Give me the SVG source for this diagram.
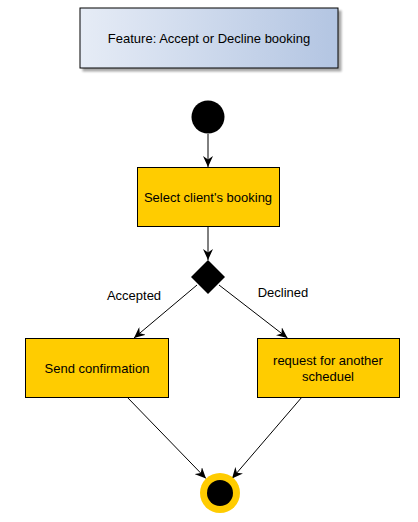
<svg xmlns="http://www.w3.org/2000/svg" width="418" height="522" viewBox="0 0 418 522">
<defs>
<linearGradient id="titleGrad" x1="0" y1="0" x2="1" y2="0">
<stop offset="0" stop-color="#e6ecf6"/>
<stop offset="1" stop-color="#b3c5e2"/>
</linearGradient>
<filter id="shadow" x="-10%" y="-20%" width="130%" height="160%">
<feGaussianBlur in="SourceAlpha" stdDeviation="1.2"/>
<feOffset dx="3" dy="3" result="b"/>
<feComponentTransfer><feFuncA type="linear" slope="0.35"/></feComponentTransfer>
<feMerge><feMergeNode/><feMergeNode in="SourceGraphic"/></feMerge>
</filter>
<marker id="arrow" viewBox="0 0 11 10" refX="11" refY="5" markerWidth="11" markerHeight="10" markerUnits="userSpaceOnUse" orient="auto">
<path d="M0,0 L11,5 L0,10 L3.5,5 z" fill="#000"/>
</marker>
</defs>
<style>
.t{font-family:"Liberation Sans",Arial,sans-serif;font-size:13px;fill:#000;}
.act{fill:#ffcc00;stroke:#000;stroke-width:1;}
.edge{fill:none;stroke:#000;stroke-width:1;marker-end:url(#arrow);}
</style>
<g id="title">
<rect x="80" y="8" width="258" height="60" fill="url(#titleGrad)" stroke="#000" stroke-width="1" filter="url(#shadow)"/>
<text class="t" x="209" y="43" text-anchor="middle">Feature: Accept or Decline booking</text>
</g>
<g id="connectors">
<line class="edge" x1="208" y1="134" x2="208" y2="167"/>
<line class="edge" x1="208" y1="227" x2="208" y2="260"/>
<line class="edge" x1="197" y1="285" x2="134" y2="338"/>
<line class="edge" x1="219" y1="285" x2="287.5" y2="338"/>
<line class="edge" x1="127" y1="397" x2="206" y2="478.5"/>
<line class="edge" x1="302" y1="397" x2="232" y2="478.5"/>
</g>
<g id="labels">
<text class="t" x="134" y="300" text-anchor="middle">Accepted</text>
<text class="t" x="283" y="297" text-anchor="middle">Declined</text>
</g>
<g id="start">
<circle cx="208" cy="117" r="16.5" fill="#000"/>
</g>
<g id="select">
<rect class="act" x="137.5" y="167.5" width="142" height="59"/>
<text class="t" x="208" y="202" text-anchor="middle">Select client's booking</text>
</g>
<g id="decision">
<polygon points="208,260 225,277 208,294 191,277" fill="#000"/>
</g>
<g id="send">
<rect class="act" x="25.5" y="338.5" width="143" height="59"/>
<text class="t" x="97" y="373" text-anchor="middle">Send confirmation</text>
</g>
<g id="request">
<rect class="act" x="257.5" y="338.5" width="142" height="59"/>
<text class="t" x="328" y="365" text-anchor="middle">request for another</text>
<text class="t" x="328" y="381" text-anchor="middle">scheduel</text>
</g>
<g id="end">
<circle cx="220" cy="493" r="20" fill="#ffcc00"/>
<circle cx="220" cy="493" r="13" fill="#000"/>
</g>
</svg>
